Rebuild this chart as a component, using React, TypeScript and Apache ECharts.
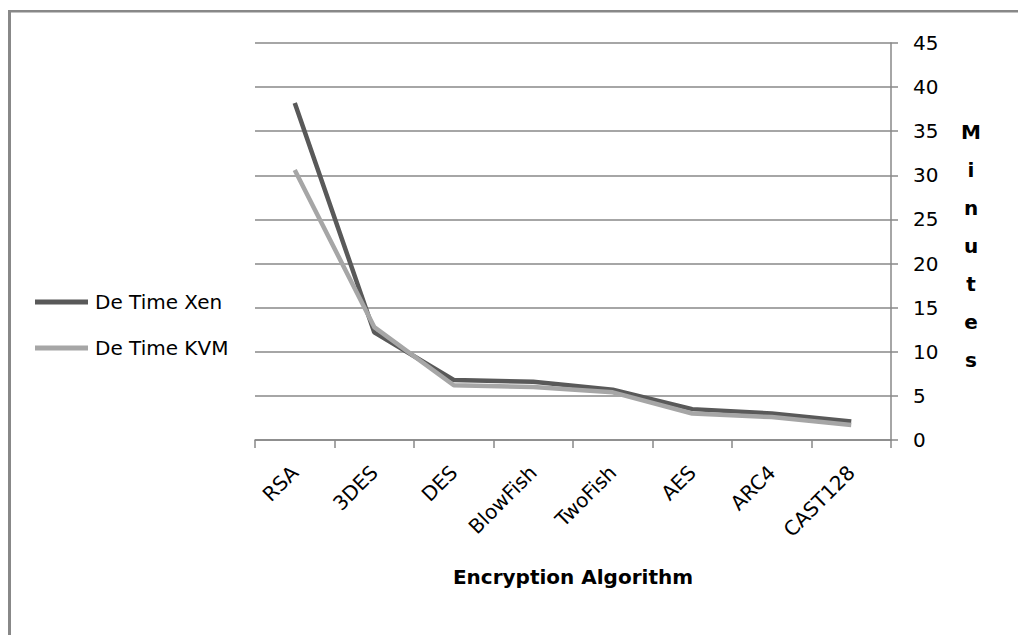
import React, { useEffect, useRef } from "react";
import * as echarts from "echarts";

const categories = ["RSA", "3DES", "DES", "BlowFish", "TwoFish", "AES", "ARC4", "CAST128"];
const xenValues = [38.2, 12.2, 6.8, 6.6, 5.7, 3.5, 3.0, 2.1];
const kvmValues = [30.6, 12.8, 6.2, 6.0, 5.4, 3.0, 2.6, 1.7];
const seriesNames = ["De Time Xen", "De Time KVM"];
const xAxisTitle = "Encryption Algorithm";
const yAxisTitle = "Minutes";

const FONT = "DejaVu Sans";

export default function App() {
  const ref = useRef<HTMLDivElement>(null);
  useEffect(() => {
    if (!ref.current) return;
    const chart = echarts.init(ref.current, undefined, { renderer: "svg" });
    chart.setOption({
      animation: false,
      backgroundColor: "#ffffff",
      textStyle: { fontFamily: FONT },
      grid: { left: 255, right: 127, top: 43, bottom: 195 },
      legend: {
        orient: "vertical",
        left: 35,
        top: 292,
        padding: 0,
        itemWidth: 53,
        itemHeight: 5,
        itemGap: 26,
        icon: "rect",
        textStyle: { fontFamily: FONT, fontSize: 20, color: "#000", lineHeight: 20, padding: [0, 0, 0, 2] },
        data: seriesNames,
      },
      xAxis: {
        type: "category",
        data: categories,
        boundaryGap: true,
        axisLine: { show: true, lineStyle: { color: "#888", width: 1.5 } },
        axisTick: { show: true, length: 8, lineStyle: { color: "#888", width: 1.5 } },
        axisLabel: { rotate: 45, margin: 29, fontFamily: FONT, fontSize: 20, color: "#000", interval: 0 },
        splitLine: { show: false },
      },
      yAxis: {
        type: "value",
        position: "right",
        min: 0,
        max: 45,
        interval: 5,
        axisLine: { show: true, lineStyle: { color: "#888", width: 1.5 } },
        axisTick: { show: true, length: 7, lineStyle: { color: "#888", width: 1.5 } },
        axisLabel: { margin: 22, fontFamily: FONT, fontSize: 20, color: "#000", align: "left" },
        splitLine: { show: true, lineStyle: { color: "#888", width: 1.5 } },
      },
      graphic: [
        {
          type: "text",
          style: {
            text: xAxisTitle,
            x: 573,
            y: 577,
            align: "center",
            verticalAlign: "middle",
            font: `bold 20px "${FONT}"`,
            fill: "#000",
          },
        },
        {
          type: "text",
          style: {
            text: yAxisTitle.split("").join("\n"),
            x: 971,
            y: 246,
            align: "center",
            verticalAlign: "middle",
            lineHeight: 38,
            font: `bold 20px "${FONT}"`,
            fill: "#000",
          },
        },
        {
          type: "rect",
          shape: { x: 8, y: 10, width: 3, height: 625 },
          style: { fill: "#888" },
        },
        {
          type: "rect",
          shape: { x: 8, y: 10, width: 1010, height: 2.5 },
          style: { fill: "#888" },
        },
      ],
      series: [
        {
          name: seriesNames[0],
          type: "line",
          data: xenValues,
          symbol: "none",
          color: "#595959",
          lineStyle: { width: 4.5, color: "#595959" },
        },
        {
          name: seriesNames[1],
          type: "line",
          data: kvmValues,
          symbol: "none",
          color: "#a6a6a6",
          lineStyle: { width: 4.5, color: "#a6a6a6" },
        },
      ],
    });
    return () => chart.dispose();
  }, []);
  return (
    <div
      ref={ref}
      style={{ position: "fixed", left: 0, top: 0, width: 1018, height: 635 }}
    />
  );
}
